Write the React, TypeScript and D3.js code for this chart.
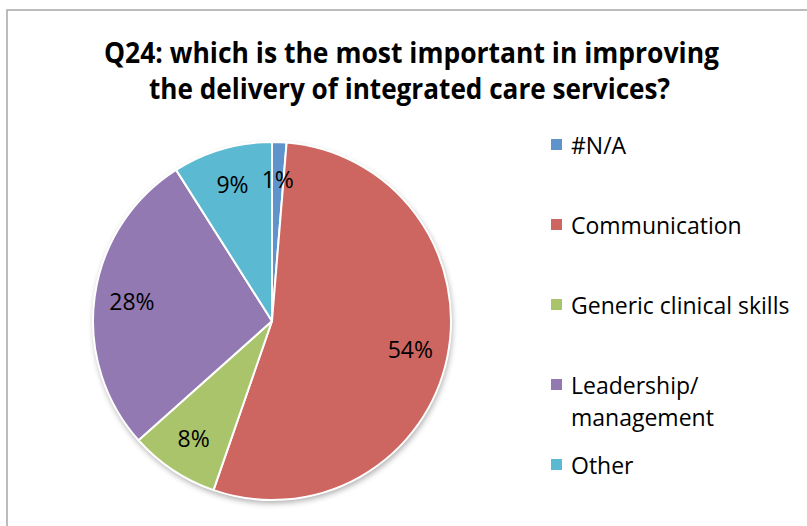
import React from "react";
import * as d3 from "d3";

const titleLines = [
  "Q24: which is the most important in improving",
  "the delivery of integrated care services?",
];
const categories = ["#N/A", "Communication", "Generic clinical skills", "Leadership/ management", "Other"];
const values = [1.3, 54.0, 8.1, 27.6, 9.0];
const labels = ["1%", "54%", "8%", "28%", "9%"];
const colors = ["#5F93CC", "#CD6660", "#A9C46B", "#9279B1", "#5BB9D1"];
const legendLines = [["#N/A"], ["Communication"], ["Generic clinical skills"], ["Leadership/", "management"], ["Other"]];

export default function App() {
  const W = 807, H = 526;
  const cx = 272, cy = 321, r = 179;
  const pie = d3.pie<number>().sort(null).value((d) => d);
  const arcs = pie(values);
  const arc = d3.arc<d3.PieArcDatum<number>>().innerRadius(0).outerRadius(r);
  const labelArc = d3.arc<d3.PieArcDatum<number>>().innerRadius(r * 0.79).outerRadius(r * 0.79);
  const font = "'Open Sans', 'DejaVu Sans', sans-serif";
  const legendY = d3.scaleLinear().domain([0, 1]).range([154, 234]);

  return (
    <svg width={W} height={H} style={{ position: "absolute", left: 0, top: 0, background: "#fff" }}>
      <defs>
        <filter id="shadow" x="-20%" y="-20%" width="140%" height="140%">
          <feGaussianBlur in="SourceAlpha" stdDeviation="3" />
          <feOffset dx="1" dy="3" result="b" />
          <feComponentTransfer>
            <feFuncA type="linear" slope="0.35" />
          </feComponentTransfer>
          <feMerge>
            <feMergeNode />
            <feMergeNode in="SourceGraphic" />
          </feMerge>
        </filter>
      </defs>
      <rect x={7} y={10} width={900} height={600} fill="#fff" stroke="#a6a6a6" strokeWidth={1.5} />
      {titleLines.map((t, i) => (
        <text
          key={i}
          x={i === 0 ? 411.5 : 409.5}
          y={63 + i * 36}
          textAnchor="middle"
          fontFamily={font}
          fontWeight="bold"
          fontSize={28}
          textLength={i === 0 ? 615 : 521}
          lengthAdjust="spacingAndGlyphs"
          fill="#000"
        >
          {t}
        </text>
      ))}
      <g transform={`translate(${cx},${cy})`}>
        <circle r={r} fill="#fff" filter="url(#shadow)" />
        {arcs.map((a, i) => (
          <path key={i} d={arc(a) || ""} fill={colors[i]} stroke="#fff" strokeWidth={2} strokeLinejoin="round" />
        ))}
        {arcs.map((a, i) => {
          const [lx, ly] = labelArc.centroid(a);
          return (
            <text key={i} x={lx} y={ly} dy="0.35em" textAnchor="middle" fontFamily={font} fontSize={23} fill="#000">
              {labels[i]}
            </text>
          );
        })}
      </g>
      {categories.map((c, i) => {
        const y = legendY(i);
        return (
          <g key={c}>
            <rect x={551} y={y - 15} width={11} height={11} fill={colors[i]} />
            {legendLines[i].map((ln, j) => (
              <text key={j} x={571} y={y + j * 32} fontFamily={font} fontSize={23} fill="#000">
                {ln}
              </text>
            ))}
          </g>
        );
      })}
    </svg>
  );
}
